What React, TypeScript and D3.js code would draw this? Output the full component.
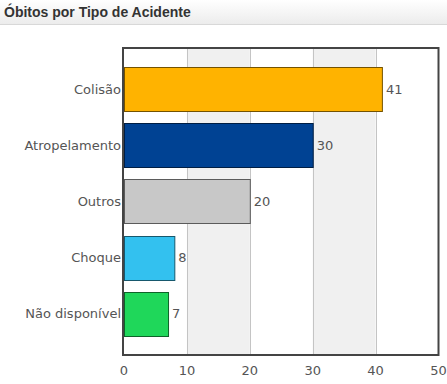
import * as d3 from 'd3';
import React, { useEffect, useRef } from 'react';

const categories = ['Colisão', 'Atropelamento', 'Outros', 'Choque', 'Não disponível'];
const values = [41, 30, 20, 8, 7];
const colors = ['#ffb300', '#004293', '#c8c8c8', '#33c1ef', '#1fd75a'];
const xTicks = [0, 10, 20, 30, 40, 50];
const title = 'Óbitos por Tipo de Acidente';

const W = 447;
const H = 384;

export default function App() {
    const wrapper = useRef<SVGSVGElement>(null);

    useEffect(() => {
        const svg = d3.select(wrapper.current);
        svg.selectAll('*').remove();

        const font = '"DejaVu Sans", Verdana, sans-serif';
        const fs = 13;
        const left = 124, right = 438.5, top = 48, bottom = 355;

        // title bar
        const defs = svg.append('defs');
        const grad = defs.append('linearGradient').attr('id', 'hdr')
            .attr('x1', 0).attr('y1', 0).attr('x2', 0).attr('y2', 1);
        grad.append('stop').attr('offset', '0%').attr('stop-color', '#ffffff');
        grad.append('stop').attr('offset', '100%').attr('stop-color', '#ececec');
        svg.append('rect').attr('x', 0).attr('y', 0).attr('width', W).attr('height', 24)
            .attr('fill', 'url(#hdr)');
        svg.append('line').attr('x1', 0).attr('x2', W).attr('y1', 24.5).attr('y2', 24.5)
            .attr('stroke', '#d8d8d8');
        svg.append('text').attr('x', 4).attr('y', 17)
            .attr('font-family', '"Liberation Sans", Arial, sans-serif')
            .attr('font-weight', 'bold').attr('font-size', 14).attr('fill', '#333')
            .text(title);

        const x = d3.scaleLinear().domain([0, 50]).range([left, right]);
        const y = d3.scaleBand<string>().domain(categories).range([top, bottom])
            .paddingInner(0.2143).paddingOuter(0.348);

        // alternating bands
        const g = svg.append('g');
        g.selectAll('.band')
            .data(xTicks.slice(0, -1).filter((d, i) => i % 2 === 1))
            .enter().append('rect')
            .attr('x', d => x(d)).attr('y', top)
            .attr('width', d => x(d + 10) - x(d)).attr('height', bottom - top)
            .attr('fill', '#f0f0f0');

        g.selectAll('.grid')
            .data(xTicks.slice(1, -1))
            .enter().append('line')
            .attr('x1', d => Math.round(x(d)) + 0.5).attr('x2', d => Math.round(x(d)) + 0.5)
            .attr('y1', top).attr('y2', bottom)
            .attr('stroke', '#c4c4c4');

        // bars
        g.selectAll('.bar')
            .data(values)
            .enter().append('rect')
            .attr('x', x(0) + 0.5)
            .attr('y', (d, i) => Math.round(y(categories[i])!) + 0.5)
            .attr('width', d => x(d) - x(0))
            .attr('height', Math.round(y.bandwidth()))
            .attr('fill', (d, i) => colors[i])
            .attr('stroke', (d, i) => d3.color(colors[i])!.darker(2.2).formatHex());

        g.selectAll('.val')
            .data(values)
            .enter().append('text')
            .attr('x', d => x(d) + 4)
            .attr('y', (d, i) => y(categories[i])! + y.bandwidth() / 2)
            .attr('dy', '0.35em')
            .attr('font-family', font).attr('font-size', fs).attr('fill', '#555')
            .text(d => d);

        g.selectAll('.cat')
            .data(categories)
            .enter().append('text')
            .attr('x', left - 3)
            .attr('y', d => y(d)! + y.bandwidth() / 2)
            .attr('dy', '0.35em')
            .attr('text-anchor', 'end')
            .attr('font-family', font).attr('font-size', fs).attr('fill', '#555')
            .text(d => d);

        g.selectAll('.tick')
            .data(xTicks)
            .enter().append('text')
            .attr('x', d => x(d))
            .attr('y', 370)
            .attr('dy', '0.35em')
            .attr('text-anchor', 'middle')
            .attr('font-family', font).attr('font-size', fs).attr('fill', '#555')
            .text(d => d);

        // frame
        svg.append('rect')
            .attr('x', left - 1).attr('y', top)
            .attr('width', right - left + 1).attr('height', bottom - top)
            .attr('fill', 'none').attr('stroke', '#444').attr('stroke-width', 2);
    }, []);

    return (
        <svg ref={wrapper} width={W} height={H}
            style={{ position: 'absolute', left: 0, top: 0, background: '#fff' }} />
    );
}
